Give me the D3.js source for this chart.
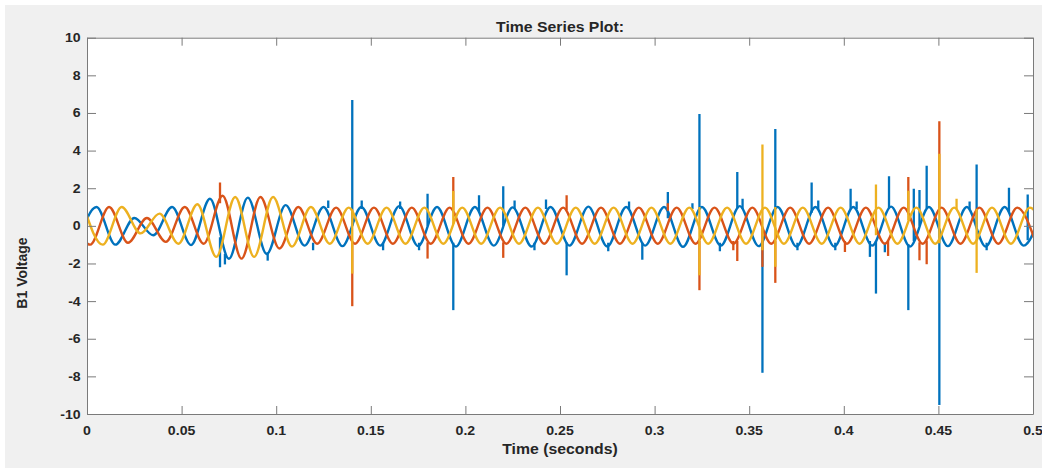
<!DOCTYPE html>
<html><head><meta charset="utf-8">
<script src="https://cdn.jsdelivr.net/npm/d3@7"></script>
<style>body{margin:0;background:#fff;} svg{display:block;}</style>
</head><body><svg id="c" width="1042" height="468"></svg>
<script>
// ---------- data ----------
const chartTitle = "Time Series Plot:";
const xLabel = "Time (seconds)";
const yLabel = "B1 Voltage";
const xTicks = [0, 0.05, 0.1, 0.15, 0.2, 0.25, 0.3, 0.35, 0.4, 0.45, 0.5];
const xTickLabels = ["0", "0.05", "0.1", "0.15", "0.2", "0.25", "0.3", "0.35", "0.4", "0.45", "0.5"];
const yTicks = [-10, -8, -6, -4, -2, 0, 2, 4, 6, 8, 10];
const yTickLabels = ["-10", "-8", "-6", "-4", "-2", "0", "2", "4", "6", "8", "10"];
const seriesNames = ["Phase A", "Phase B", "Phase C"];

// extrema (peaks / troughs) of each 50 Hz phase, one per half cycle (0.01 s)
const halfCycle = 0.01;
const firstExtremumTime = [-0.005, -0.00833, -0.00167];
const blueExtrema = [-1, 1, -1, 0.42, -0.5, 1, -1.02, 1.44, -1.75, 1.5, -1.5, 1.1, -1.05,
  1.0, -1.08, 1.0, -1.05, 1.05, -1.08, 1.0, -1.1, 1.0, -1.05, 0.98, -1.1, 1.0, -1.05, 1.02,
  -1.1, 1.0, -1.05, 1.0, -1.12, 1.0, -1.05, 1.05, -1.08, 1.0, -1.1, 1.0, -1.1, 1.0, -1.05,
  1.02, -1.1, 1.0, -1.08, 1.0, -1.1, 1.0, -1.05, 1.0];
const orangeExtrema = [1, -1, 1, -0.9, 0.42, -0.85, 1.0, -0.95, 1.6, -1.74, 1.53, -1.2, 1.0,
  -0.95, 0.97, -0.95, 0.97, -0.95, 0.97, -0.95, 0.97, -0.95, 0.97, -0.95, 0.97, -0.95, 0.97,
  -0.95, 0.97, -0.95, 0.97, -0.95, 0.97, -0.95, 0.97, -0.95, 0.97, -0.95, 0.97, -0.95, 0.97,
  -0.95, 0.97, -0.95, 0.97, -0.95, 0.97, -0.95, 0.97, -0.95, 0.97, -0.95];
const yellowExtrema = [1, -1, 1, -0.4, 0.65, -0.95, 1.15, -1.65, 1.53, -1.65, 1.53, -1.1, 1.0,
  -0.95, 0.97, -0.95, 0.97, -0.95, 0.97, -0.95, 0.97, -0.95, 0.97, -0.95, 0.97, -0.95, 0.97,
  -0.95, 0.97, -0.95, 0.97, -0.95, 0.97, -0.95, 0.97, -0.95, 0.97, -0.95, 0.97, -0.95, 0.97,
  -0.95, 0.97, -0.95, 0.97, -0.95, 0.97, -0.95, 0.97, -0.95, 0.97, -0.95];

// impulse spikes and small notches: [time, from value, to value]
const blueSpikes = [
  [0.0703, -0.6, -2.2], [0.0729, -1.5, -2.05], [0.0955, -1.4, -1.85], [0.1195, -0.9, -1.3],
  [0.1275, 0.95, 1.35], [0.1402, 0, 6.69], [0.1452, 0.9, 1.35], [0.1565, -0.9, -1.3],
  [0.1655, 0.9, 1.3], [0.1755, -0.9, -1.3], [0.1800, 0, 1.71], [0.1936, -0.9, -4.48],
  [0.2072, 0.77, 1.62], [0.2200, 0, 2.1], [0.2260, 0.9, 1.35], [0.2365, -0.9, -1.3],
  [0.2426, 0.9, 1.4], [0.2535, -0.89, -2.63], [0.2755, -0.9, -1.35], [0.2865, 0.9, 1.3],
  [0.2935, -0.9, -1.8], [0.3070, 0.4, 1.8], [0.3200, 0.9, 1.2], [0.3237, 0.92, 5.95],
  [0.3345, -0.9, -1.35], [0.3437, 0.92, 2.86], [0.3465, 0.9, 1.44], [0.3570, -0.81, -7.81],
  [0.3638, 0.93, 5.15], [0.3755, -0.9, -1.3], [0.3830, 0.7, 2.3], [0.3865, 0.9, 1.35],
  [0.3955, -0.9, -1.3], [0.4036, 0.9, 1.97], [0.4068, 0.9, 1.3],
  [0.4138, -0.8, -1.65], [0.4170, -0.81, -3.6], [0.4217, -0.9, -1.4], [0.4239, 0.94, 2.64],
  [0.4341, -0.96, -4.48], [0.4370, -0.81, 1.97], [0.4400, 0, 1.9], [0.4438, 0.93, 3.2],
  [0.4505, -0.16, -9.52], [0.4665, 0.9, 1.3], [0.4702, -0.06, 3.26], [0.4755, -0.9, -1.3],
  [0.4873, 0.75, 2.03], [0.4972, -0.77, 1.67]
];
const orangeSpikes = [
  [0.0703, 1.2, 2.3], [0.1402, -0.87, -4.27], [0.1800, -0.87, -1.74], [0.1936, 0.82, 2.59],
  [0.2200, -0.87, -1.7], [0.2535, 0.84, 1.62], [0.3070, 0.8, 1.2], [0.3237, -0.8, -3.42],
  [0.3416, -0.8, -1.3], [0.3437, -0.8, -1.87], [0.3570, -0.1, -2.18], [0.3638, -0.78, -3.03],
  [0.4006, -0.8, -1.39], [0.4234, -0.8, -1.6], [0.4341, 0.72, 2.59], [0.4400, -0.87, -1.83],
  [0.4438, -0.78, -2.04], [0.4505, 0.94, 5.56]
];
const yellowSpikes = [
  [0.1402, 0.87, -2.54], [0.1936, 0.1, 1.85], [0.3237, 1.0, -2.63], [0.3570, -1.3, 4.32],
  [0.3638, 1.0, -2.18], [0.4170, -0.5, 2.2], [0.4341, 0.3, 1.87], [0.4505, -0.93, 3.83],
  [0.4596, 0.9, 1.44], [0.4702, 0.9, -2.5]
];

// ---------- drawing ----------
const colors = ["#0072BD", "#D95319", "#EDB120"];
const W = 1042, H = 468;
const m = {left: 87, right: 1033, top: 37.7, bottom: 414};
const svg = d3.select("#c");
const font = "'Liberation Sans', Arial, Helvetica, sans-serif";
const stretch = 1.13;

svg.append("rect").attr("x", 5).attr("y", 5).attr("width", W - 5).attr("height", H - 5).attr("fill", "#f0f0f0");
svg.append("rect").attr("x", m.left).attr("y", m.top).attr("width", m.right - m.left)
  .attr("height", m.bottom - m.top).attr("fill", "#ffffff");

const x = d3.scaleLinear().domain([0, 0.5]).range([m.left, m.right]);
const y = d3.scaleLinear().domain([-10, 10]).range([m.bottom, m.top]);

svg.append("defs").append("clipPath").attr("id", "clip").append("rect")
  .attr("x", m.left).attr("y", m.top).attr("width", m.right - m.left).attr("height", m.bottom - m.top);

const plot = svg.append("g").attr("clip-path", "url(#clip)");
const extremaSets = [blueExtrema, orangeExtrema, yellowExtrema];
const spikeSets = [blueSpikes, orangeSpikes, yellowSpikes];
const waveLine = d3.line().x(d => x(d[0])).y(d => y(d[1])).curve(d3.curveMonotoneX);
const segLine = d3.line().x(d => x(d[0])).y(d => y(d[1]));

extremaSets.forEach((vals, s) => {
  const pts = vals.map((v, j) => [firstExtremumTime[s] + j * halfCycle, v]);
  const g = plot.append("g").attr("class", "series").attr("data-name", seriesNames[s]);
  g.append("path").attr("d", waveLine(pts)).attr("fill", "none")
    .attr("stroke", colors[s]).attr("stroke-width", 2.4).attr("stroke-linejoin", "round");
  spikeSets[s].forEach(sp => {
    g.append("path").attr("d", segLine([[sp[0], sp[1]], [sp[0], sp[2]]]))
      .attr("fill", "none").attr("stroke", colors[s]).attr("stroke-width", 2.3);
  });
});

// axes (box with inward ticks on all sides)
const axisColor = "#7a7a7a";
function styleAxis(g) {
  g.selectAll("path.domain").attr("stroke", axisColor).attr("stroke-width", 1);
  g.selectAll(".tick line").attr("stroke", axisColor).attr("stroke-width", 1);
  g.selectAll(".tick text").remove();
}
svg.append("g").attr("transform", `translate(0,${m.bottom})`)
  .call(d3.axisBottom(x).tickValues(xTicks).tickSizeInner(-8).tickSizeOuter(0)).call(styleAxis);
svg.append("g").attr("transform", `translate(0,${m.top})`)
  .call(d3.axisTop(x).tickValues(xTicks).tickSizeInner(-8).tickSizeOuter(0)).call(styleAxis);
svg.append("g").attr("transform", `translate(${m.left},0)`)
  .call(d3.axisLeft(y).tickValues(yTicks).tickSizeInner(-9).tickSizeOuter(0)).call(styleAxis);
svg.append("g").attr("transform", `translate(${m.right},0)`)
  .call(d3.axisRight(y).tickValues(yTicks).tickSizeInner(-9).tickSizeOuter(0)).call(styleAxis);

const txt = "#262626";
xTicks.forEach((t, i) => {
  svg.append("text").attr("transform", `translate(${x(t)},434.5) scale(${stretch},1)`)
    .attr("text-anchor", "middle").attr("font-family", font).attr("font-weight", "bold")
    .attr("font-size", 12.5).attr("fill", txt).text(xTickLabels[i]);
});
yTicks.forEach((t, i) => {
  svg.append("text").attr("transform", `translate(80.7,${y(t) + 4.5}) scale(${stretch},1)`)
    .attr("text-anchor", "end").attr("font-family", font).attr("font-weight", "bold")
    .attr("font-size", 12.5).attr("fill", txt).text(yTickLabels[i]);
});

svg.append("text").attr("transform", `translate(${(m.left + m.right) / 2},32) scale(${stretch},1)`)
  .attr("text-anchor", "middle").attr("font-family", font).attr("font-weight", "bold")
  .attr("font-size", 14).attr("fill", txt).text(chartTitle);
svg.append("text").attr("transform", `translate(${(m.left + m.right) / 2},453.5) scale(${stretch},1)`)
  .attr("text-anchor", "middle").attr("font-family", font).attr("font-weight", "bold")
  .attr("font-size", 14).attr("fill", txt).text(xLabel);
svg.append("text").attr("transform", `translate(27,273) rotate(-90)`)
  .attr("text-anchor", "middle").attr("font-family", font).attr("font-weight", "bold")
  .attr("font-size", 14).attr("fill", txt).text(yLabel);
</script>
</body></html>
